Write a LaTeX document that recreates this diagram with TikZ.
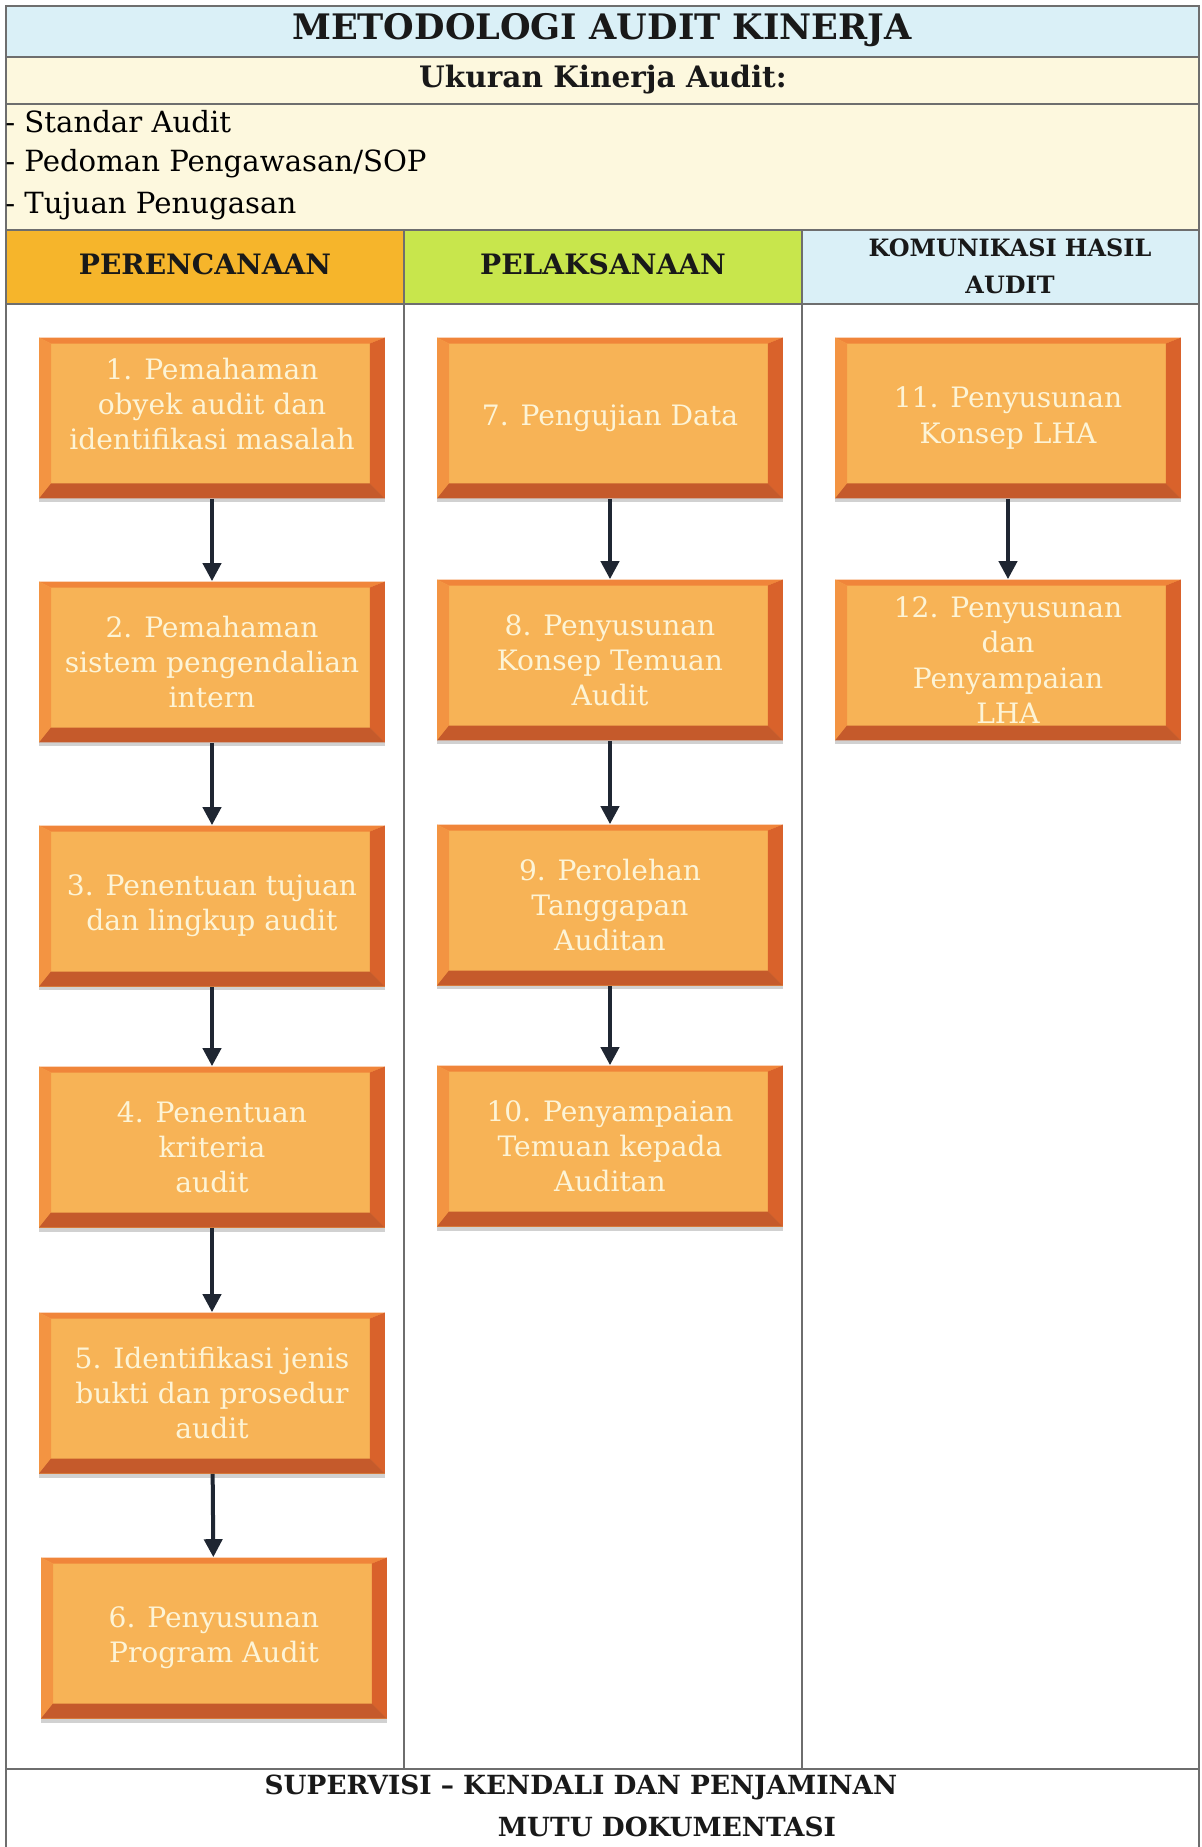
\documentclass[tikz,border=0pt]{standalone}
\usepackage{fontspec}
\setmainfont{DejaVu Serif}
\usepackage{tikz}
\usetikzlibrary{arrows.meta, calc, shadows, backgrounds}
\definecolor{judulbiru}{HTML}{DAF0F7}
\definecolor{krem}{HTML}{FDF8DE}
\definecolor{jingga}{HTML}{F6B52B}
\definecolor{hijau}{HTML}{C8E64C}
\definecolor{kotakisi}{HTML}{F7B356}
\definecolor{kotakatas}{HTML}{F0853A}
\definecolor{kotakkiri}{HTML}{F39442}
\definecolor{kotakkanan}{HTML}{D9622B}
\definecolor{kotakbawah}{HTML}{C55A2B}
\definecolor{teksbox}{HTML}{FDF4D6}
\definecolor{panah}{HTML}{1F2632}
\definecolor{garis}{HTML}{6E6E6E}

\tikzset{
  langkah/.style={rectangle, fill=kotakisi, minimum width=6.92cm, minimum height=3.22cm,
    inner sep=0pt, text=teksbox, align=center, font=\fontsize{16}{20}\selectfont,
    drop shadow={shadow xshift=0pt, shadow yshift=-0.08cm, opacity=0.3, fill=black!60},
    path picture={
      % sisi atas
      \fill[kotakatas] (path picture bounding box.north west) -- (path picture bounding box.north east)
        -- ([shift={(-0.3cm,-0.12cm)}]path picture bounding box.north east)
        -- ([shift={(0.24cm,-0.12cm)}]path picture bounding box.north west) -- cycle;
      % sisi kiri
      \fill[kotakkiri] (path picture bounding box.north west)
        -- ([shift={(0.24cm,-0.12cm)}]path picture bounding box.north west)
        -- ([shift={(0.24cm,0.3cm)}]path picture bounding box.south west)
        -- (path picture bounding box.south west) -- cycle;
      % sisi kanan
      \fill[kotakkanan] (path picture bounding box.north east) -- (path picture bounding box.south east)
        -- ([shift={(-0.3cm,0.3cm)}]path picture bounding box.south east)
        -- ([shift={(-0.3cm,-0.12cm)}]path picture bounding box.north east) -- cycle;
      % sisi bawah
      \fill[kotakbawah] (path picture bounding box.south west)
        -- ([shift={(0.24cm,0.3cm)}]path picture bounding box.south west)
        -- ([shift={(-0.3cm,0.3cm)}]path picture bounding box.south east)
        -- (path picture bounding box.south east) -- cycle;
    }},
  alur/.style={-{Triangle[length=0.36cm,width=0.36cm]}, line width=0.08cm, draw=panah},
  garistabel/.style={draw=garis, line width=0.6pt},
  judulkolom/.style={font=\fontsize{16}{19}\selectfont\bfseries, text=black!90, align=center}
}

\begin{document}
\begin{tikzpicture}[x=0.02cm, y=-0.02cm]
  \useasboundingbox (0,0) rectangle (1201,1847);

  % latar belakang tabel
  \fill[judulbiru] (6,6) rectangle (1199,57);
  \fill[krem] (6,57) rectangle (1199,230);
  \fill[jingga] (6,230) rectangle (404,304);
  \fill[hijau] (404,230) rectangle (802,304);
  \fill[judulbiru] (802,230) rectangle (1199,304);

  % garis tabel
  \draw[garistabel] (6,1847) -- (6,6) -- (1199,6) -- (1199,1847);
  \foreach \yy in {57,104,230,304,1769}
    \draw[garistabel] (6,\yy) -- (1199,\yy);
  \foreach \xx in {404,802}
    \draw[garistabel] (\xx,230) -- (\xx,1769);

  % judul dan ukuran kinerja
  \node[font=\fontsize{20}{24}\selectfont\bfseries, text=black!90] (judul) at (602,30) {METODOLOGI AUDIT KINERJA};
  \node[font=\fontsize{16.8}{19}\selectfont\bfseries, text=black!90] (ukuran) at (603,80) {Ukuran Kinerja Audit:};
  \node[anchor=west, inner xsep=0pt, font=\fontsize{16.6}{19}\selectfont] (standar) at (5,122) {- Standar Audit};
  \node[anchor=west, inner xsep=0pt, font=\fontsize{16.6}{19}\selectfont] (pedoman) at (5,164) {- Pedoman Pengawasan/SOP};
  \node[anchor=west, inner xsep=0pt, font=\fontsize{16.6}{19}\selectfont] (tujuan) at (5,206) {- Tujuan Penugasan};

  % kepala kolom
  \node[judulkolom] (perencanaan) at (205,264) {PERENCANAAN};
  \node[judulkolom] (pelaksanaan) at (603,264) {PELAKSANAAN};
  \node[judulkolom, font=\fontsize{13.6}{21}\selectfont\bfseries] (komunikasi) at (1010,266) {KOMUNIKASI HASIL\\AUDIT};

  % perencanaan
  \node[langkah] (b1) at (212,418) {1. Pemahaman\\obyek audit dan\\identifikasi masalah\\[-4pt]\mbox{}};
  \node[langkah] (b2) at (212,662) {2. Pemahaman\\sistem pengendalian\\intern};
  \node[langkah] (b3) at (212,906) {3. Penentuan tujuan\\dan lingkup audit};
  \node[langkah] (b4) at (212,1147) {4. Penentuan\\kriteria\\audit};
  \node[langkah] (b5) at (212,1393) {5. Identifikasi jenis\\bukti dan prosedur\\audit};
  \node[langkah] (b6) at (214,1638) {6. Penyusunan\\Program Audit};

  % pelaksanaan
  \node[langkah] (b7) at (610,418) {7. Pengujian Data};
  \node[langkah] (b8) at (610,660) {8. Penyusunan\\Konsep Temuan\\Audit};
  \node[langkah] (b9) at (610,905) {9. Perolehan\\Tanggapan\\Auditan};
  \node[langkah] (b10) at (610,1146) {10. Penyampaian\\Temuan kepada\\Auditan};

  % komunikasi hasil audit
  \node[langkah] (b11) at (1008,418) {11. Penyusunan\\Konsep LHA};
  \node[langkah] (b12) at (1008,660) {12. Penyusunan\\dan\\Penyampaian\\LHA};

  % panah
  \foreach \a/\b in {b1/b2,b2/b3,b3/b4,b4/b5,b5/b6,b7/b8,b8/b9,b9/b10,b11/b12}
    \draw[alur] (\a) -- (\b);

  % supervisi
  \node[font=\fontsize{15}{18}\selectfont\bfseries, text=black!90] (supervisi) at (581,1787) {SUPERVISI – KENDALI DAN PENJAMINAN};
  \node[font=\fontsize{15}{18}\selectfont\bfseries, text=black!90] (mutu) at (667,1827) {MUTU DOKUMENTASI};
\end{tikzpicture}
\end{document}
